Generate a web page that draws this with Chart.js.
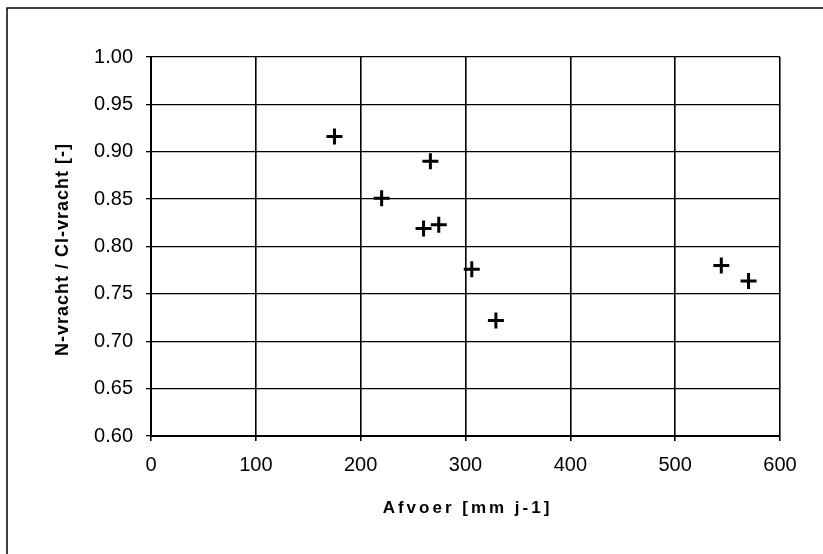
<!DOCTYPE html>
<html>
<head>
<meta charset="utf-8">
<title>N-vracht / Cl-vracht</title>
<script src="https://cdn.jsdelivr.net/npm/chart.js@4.4.1/dist/chart.umd.min.js"></script>
<style>
  body { margin: 0; background: #fff; }
  #wrap { width: 823px; height: 554px; }
</style>
</head>
<body>
<div id="wrap"><canvas id="myChart" width="823" height="554"></canvas></div>
<script>
// afvoer (mm/j) tegen verhouding N-vracht / Cl-vracht
const afvoer = [175, 266.5, 220, 260, 274.5, 306, 329, 544, 570];
const verhouding = [0.916, 0.890, 0.851, 0.819, 0.823, 0.776, 0.722, 0.780, 0.7635];

const xTicks = [0, 100, 200, 300, 400, 500, 600];
const yTicks = [0.60, 0.65, 0.70, 0.75, 0.80, 0.85, 0.90, 0.95, 1.00];

const xTitle = "Afvoer [mm j-1]";
const yTitle = "N-vracht / Cl-vracht [-]";

const fontFam = "'Liberation Sans', Arial, sans-serif";

let points = afvoer.map((x, i) => ({ x: x, y: verhouding[i] }));

// frame around the figure + the two axis titles
const extras = {
  id: "extras",
  afterDraw(chart) {
    const ctx = chart.ctx;
    const area = chart.chartArea;
    ctx.save();
    ctx.strokeStyle = "#000";
    ctx.lineWidth = 1.5;
    ctx.beginPath();
    ctx.moveTo(7, 554);
    ctx.lineTo(7, 8);
    ctx.lineTo(823, 8);
    ctx.stroke();

    ctx.fillStyle = "#000";
    ctx.font = "bold 17px " + fontFam;
    ctx.textAlign = "center";
    ctx.textBaseline = "middle";
    ctx.letterSpacing = "3px";
    ctx.fillText(xTitle, (area.left + area.right) / 2 + 2, 508);

    ctx.font = "bold 18px " + fontFam;
    ctx.letterSpacing = "1px";
    ctx.translate(63, (area.top + area.bottom) / 2 + 3);
    ctx.rotate(-Math.PI / 2);
    ctx.fillText(yTitle, 0, 0);
    ctx.restore();
  }
};

function displayGraph() {
  const ctx = document.getElementById("myChart").getContext("2d");
  new Chart(ctx, {
    type: "scatter",
    data: {
      datasets: [{
        data: points,
        pointStyle: "cross",
        pointRadius: 8,
        pointHoverRadius: 8,
        borderColor: "#000",
        backgroundColor: "#000",
        pointBorderWidth: 3
      }]
    },
    options: {
      responsive: false,
      animation: false,
      events: [],
      layout: { padding: { left: 7, top: 57, right: 43, bottom: 0 } },
      plugins: {
        legend: { display: false },
        tooltip: { enabled: false }
      },
      scales: {
        x: {
          type: "linear",
          min: 0,
          max: 600,
          afterFit: s => { s.height = 118; },
          afterBuildTicks: s => { s.ticks = xTicks.map(v => ({ value: v })); },
          grid: { color: "#000", lineWidth: 1.6, tickLength: 5 },
          border: { color: "#000", width: 2 },
          ticks: {
            color: "#000",
            padding: 12,
            font: { family: fontFam, size: 20 },
            callback: v => String(v)
          }
        },
        y: {
          min: 0.6,
          max: 1.0,
          afterFit: s => { s.width = 144; },
          afterBuildTicks: s => { s.ticks = yTicks.map(v => ({ value: v })); },
          grid: { color: "#000", lineWidth: 1.3, tickLength: 5 },
          border: { color: "#000", width: 2 },
          ticks: {
            color: "#000",
            padding: 13,
            font: { family: fontFam, size: 20 },
            callback: v => Number(v).toFixed(2)
          }
        }
      }
    },
    plugins: [extras]
  });
}

displayGraph();
</script>
</body>
</html>
